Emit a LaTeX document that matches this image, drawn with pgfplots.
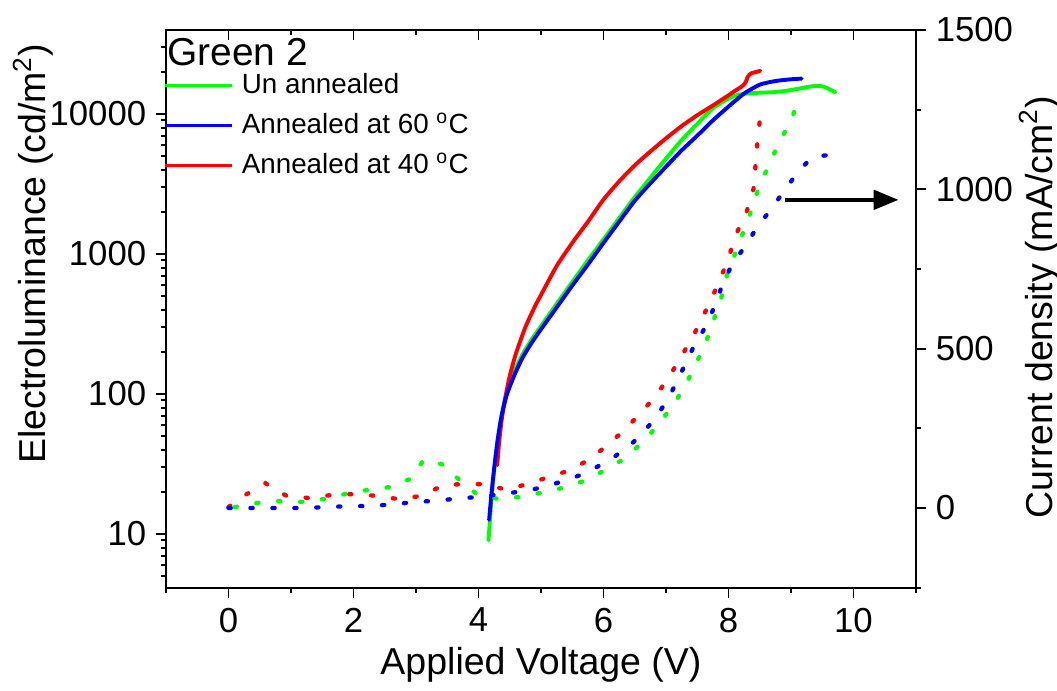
\documentclass[border=0pt]{standalone}
\usepackage{pgfplots}
\pgfplotsset{compat=1.18}
\usepackage{fontspec}
\setmainfont{Liberation Sans}
\usetikzlibrary{arrows.meta}
\definecolor{cgreen}{RGB}{0,255,0}
\definecolor{cblue}{RGB}{0,0,255}
\definecolor{cred}{RGB}{255,0,0}

\pgfplotstableread{
V L
4.16 9
4.18 12
4.20 16
4.23 23
4.27 35
4.32 52
4.38 75
4.45 100
4.55 138
4.70 190
4.85 245
5.00 305
5.25 440
5.50 630
5.75 900
6.00 1270
6.25 1800
6.50 2550
6.75 3500
7.00 4800
7.25 6500
7.50 8500
7.75 11000
8.00 12900
8.15 13700
8.30 14000
8.50 14200
8.70 14300
8.90 14600
9.10 15100
9.30 15700
9.42 15900
9.52 15700
9.62 15000
9.71 14300
}\greenEL

\pgfplotstableread{
V L
4.30 31
4.33 45
4.37 65
4.42 90
4.50 135
4.60 195
4.75 300
4.90 420
5.00 510
5.25 820
5.50 1200
5.75 1700
6.00 2450
6.25 3300
6.50 4300
6.75 5400
7.00 6700
7.25 8200
7.50 9800
7.75 11500
8.00 13600
8.10 14600
8.21 15700
8.27 16700
8.31 18500
8.36 19500
8.45 20000
8.51 20400
}\redEL

\pgfplotstableread{
V L
4.17 12.6
4.19 16
4.22 22
4.26 32
4.31 48
4.37 70
4.45 98
4.57 135
4.70 180
4.85 232
5.00 290
5.25 415
5.50 595
5.75 840
6.00 1200
6.25 1700
6.50 2400
6.75 3200
7.00 4200
7.25 5500
7.50 7000
7.75 9000
8.00 11300
8.25 14000
8.50 16200
8.75 17200
9.00 17700
9.17 17900
}\blueEL

\pgfplotstableread{
V J
0.00 3
0.27 41
0.59 78
0.93 38
1.31 31
1.65 41
2.03 44
2.37 38
2.72 28
3.09 38
3.44 72
3.74 75
4.10 75
4.45 57
4.77 75
5.12 97
5.47 119
5.76 151
6.05 195
6.32 242
6.58 295
6.82 348
7.04 408
7.23 471
7.42 534
7.58 596
7.74 662
7.89 728
8.02 797
8.13 863
8.29 929
8.40 1001
8.43 1070
8.46 1143
8.50 1215
}\redJ

\pgfplotstableread{
V J
0.10 3
0.45 16
0.78 22
1.15 19
1.52 28
1.87 44
2.24 57
2.59 66
2.94 94
3.12 151
3.41 138
3.68 91
3.97 44
4.32 28
4.69 35
5.06 50
5.41 66
5.73 88
6.05 122
6.35 157
6.61 204
6.86 257
7.09 317
7.30 380
7.46 446
7.62 509
7.74 578
7.87 647
7.95 716
8.08 785
8.21 851
8.34 920
8.45 986
8.59 1052
8.74 1117
8.90 1180
9.06 1246
}\greenJ

\pgfplotstableread{
V J
0.00 0
0.48 0
0.85 0
1.22 0
1.57 3
1.95 6
2.30 6
2.67 13
3.04 19
3.41 25
3.78 31
4.13 38
4.50 47
4.85 57
5.20 75
5.55 97
5.87 126
6.19 163
6.48 207
6.74 261
6.96 320
7.15 386
7.31 452
7.44 505
7.63 568
7.78 634
7.90 700
8.06 766
8.27 822
8.45 879
8.67 935
8.88 992
9.10 1052
9.34 1102
9.63 1108
}\blueJ

\begin{document}
\begin{tikzpicture}
\path[use as bounding box] (-59.76pt,-37.08pt) rectangle (320.76pt,211.68pt);
\pgfplotsset{
  base/.style={
    scale only axis, width=270pt, height=200.88pt,
    xmin=-1, xmax=11,
    axis line style={line width=0.7pt, -},
    every tick/.style={line width=0.7pt, black},
    major tick length=3.6pt, minor tick length=1.8pt,
    tick label style={font=\fontsize{12.5}{15}\selectfont},
    label style={font=\fontsize{13.5}{16}\selectfont},
  },
  solid/.style={line width=1.4pt, line join=round, line cap=round, smooth, tension=0.35},
  dots/.style={line width=1.55pt, line cap=round, dash pattern=on 0.8pt off 7.1pt},
}
\begin{axis}[base, ymode=log, ymin=4.115, ymax=39811,
  xtick={0,2,4,6,8,10}, xticklabels={0,2,4,6,8,10},
  minor xtick={-1,1,3,5,7,9,11},
  ytick={10,100,1000,10000}, yticklabels={10,100,1000,10000},
  minor ytick={5,6,7,8,9,20,30,40,50,60,70,80,90,200,300,400,500,600,700,800,900,2000,3000,4000,5000,6000,7000,8000,9000,20000,30000},
  xtick pos=left, ytick pos=left, tick align=outside,
  xlabel={Applied Voltage (V)},
  ylabel={Electroluminance (cd/m\textsuperscript{2})},
  xlabel style={at={(axis description cs:0.5,-0.138)}, anchor=center},
  ylabel style={at={(axis description cs:-0.177,0.599)}, anchor=center},
  legend image code/.code={\draw[#1, line width=1.4pt] (0pt,0pt) -- (24.1pt,0pt);},
  legend cell align=left,
  legend style={at={(axis description cs:-0.004,0.9225)}, anchor=north west,
    draw=none, fill=none, inner sep=0pt, outer sep=0pt,
    font=\fontsize{10}{12}\selectfont, row sep=5.6pt,
    nodes={inner sep=0pt, text height=7.2pt, text depth=1.6pt},
    /tikz/every odd column/.append style={column sep=2.9pt}},
]
\addplot[solid, cgreen, forget plot] table[x=V, y=L] {\greenEL};
\addplot[solid, cred, forget plot] table[x=V, y=L] {\redEL};
\addplot[solid, cblue, forget plot] table[x=V, y=L] {\blueEL};
\addlegendimage{cgreen}
\addlegendentry{Un annealed}
\addlegendimage{cblue}
\addlegendentry{Annealed at 60 \textsuperscript{o}C}
\addlegendimage{cred}
\addlegendentry{Annealed at 40 \textsuperscript{o}C}
\node[anchor=west, inner sep=0pt, font=\fontsize{14}{16}\selectfont] at (axis description cs:0.0013,0.9606) {Green 2};
\end{axis}
\begin{axis}[base, ymin=-251, ymax=1500,
  axis x line=none, axis y line*=right, tick align=outside,
  ytick={0,500,1000,1500}, yticklabels={0,500,1000,1500},
  minor ytick={-250,250,750,1250},
  ylabel={Current density (mA/cm\textsuperscript{2})},
  ylabel style={at={(axis description cs:1.1653,0.5036)}, anchor=center},
]
\addplot[dots, cred] table[x=V, y=J] {\redJ};
\addplot[dots, cgreen] table[x=V, y=J] {\greenJ};
\addplot[dots, cblue] table[x=V, y=J] {\blueJ};
\draw[line width=1.4pt, -{Triangle[length=9pt,width=7pt]}] (axis cs:8.9,967) -- (axis cs:10.72,967);
\end{axis}
\begin{axis}[base, ymin=0, ymax=1,
  axis x line*=top, axis y line=none, tick align=inside,
  xtick={0,2,4,6,8,10}, minor xtick={-1,1,3,5,7,9,11},
  xticklabels={},
]
\end{axis}
\end{tikzpicture}
\end{document}
